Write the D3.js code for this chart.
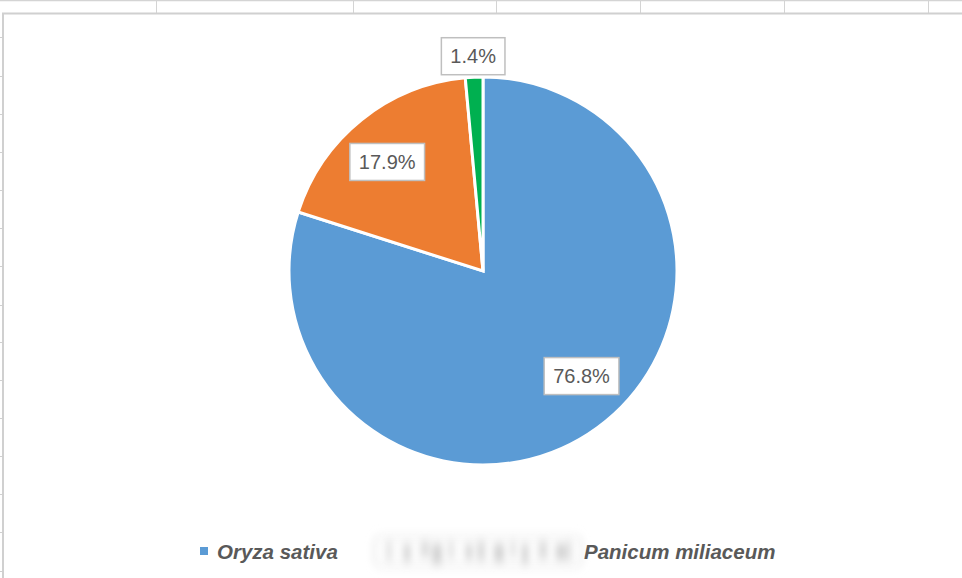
<!DOCTYPE html>
<html>
<head>
<meta charset="utf-8">
<script src="https://cdn.jsdelivr.net/npm/d3@7"></script>
<style>
  html, body { margin: 0; padding: 0; background: #fff; }
  svg { display: block; }
</style>
</head>
<body>
<svg id="chart" width="962" height="578"></svg>
<script>
// chart data
const categories = ["Oryza sativa", "", "Panicum miliaceum"];
const values = [76.8, 17.9, 1.4];
const colors = ["#5b9bd5", "#ed7d31", "#00b050"];

// spreadsheet grid behind the chart
const sheetCols = [156, 353, 496, 640, 784, 928];
const sheetRows = [37, 76, 114, 152, 190, 228, 266, 305, 342, 380, 418, 456, 494, 532, 571];

const W = 962, H = 578;
const cx = 483, cy = 271, R = 194;

const svg = d3.select("#chart");

//Sheet gridlines
const grid = svg.append("g").attr("class", "sheet");
grid.append("line").attr("x1", 0).attr("x2", W).attr("y1", 0.5).attr("y2", 0.5)
  .attr("stroke", "#d4d4d4").attr("stroke-width", 1.5);
grid.selectAll("line.col").data(sheetCols).enter().append("line")
  .attr("class", "col")
  .attr("x1", d => d + 0.5).attr("x2", d => d + 0.5)
  .attr("y1", 0).attr("y2", 13)
  .attr("stroke", "#d4d4d4");
grid.selectAll("line.row").data(sheetRows).enter().append("line")
  .attr("class", "row")
  .attr("x1", 0).attr("x2", 3)
  .attr("y1", d => d + 0.5).attr("y2", d => d + 0.5)
  .attr("stroke", "#d0d0d0");

//Chart area border
svg.append("path")
  .attr("d", `M3,${H} L3,13.5 L${W},13.5`)
  .attr("fill", "none")
  .attr("stroke", "#d0d0d0")
  .attr("stroke-width", 2);

//Pie
const pie = d3.pie().sort(null).value(d => d);
const arcs = pie(values);
const arc = d3.arc().innerRadius(0).outerRadius(R);

const pieGroup = svg.append("g").attr("transform", `translate(${cx},${cy})`);
pieGroup.selectAll("path")
  .data(arcs)
  .enter()
  .append("path")
  .attr("d", arc)
  .attr("fill", (d, i) => colors[i])
  .attr("stroke", "#fff")
  .attr("stroke-width", 3)
  .attr("stroke-linejoin", "miter");

//Data labels (best fit: inside for big slices, outside for tiny ones)
const labelNudge = [[13, -12], [-5, 4], [0, 0]];
const labelFont = "'Liberation Sans', Arial, sans-serif";
const labelGroup = pieGroup.append("g").attr("class", "labels");

arcs.forEach((d, i) => {
  const mid = (d.startAngle + d.endAngle) / 2;
  const outside = (d.endAngle - d.startAngle) < 0.2;
  const r = outside ? R + 21 : 145;
  const x = Math.sin(mid) * r + labelNudge[i][0];
  const y = -Math.cos(mid) * r + labelNudge[i][1];

  const g = labelGroup.append("g").attr("transform", `translate(${x},${y})`);
  const rect = g.append("rect");
  const t = g.append("text")
    .attr("text-anchor", "middle")
    .attr("dominant-baseline", "central")
    .attr("font-family", labelFont)
    .attr("font-size", 20)
    .attr("fill", "#595959")
    .text(d3.format(".1f")(values[i]) + "%");
  const tw = t.node().getComputedTextLength();
  const bw = tw + 18, bh = 37;
  rect.attr("x", -bw / 2).attr("y", -bh / 2)
    .attr("width", bw).attr("height", bh)
    .attr("fill", "#fff")
    .attr("stroke", "#bfbfbf")
    .attr("stroke-width", 1.5);
});

//Legend
const legendY = 551;
const legend = svg.append("g").attr("class", "legend");
const legendFont = "'Liberation Sans', Arial, sans-serif";

// blur filter for the hidden entry
const defs = svg.append("defs");
defs.append("filter").attr("id", "smudge")
  .attr("x", "-10%").attr("y", "-40%").attr("width", "120%").attr("height", "180%")
  .append("feGaussianBlur").attr("stdDeviation", "3 5");

let lx = 200;
categories.forEach((name, i) => {
  if (name === "") {
    // entry obscured in the source picture
    const bx = 373, bw = 210;
    legend.append("rect").attr("x", bx).attr("y", 536).attr("width", bw).attr("height", 31)
      .attr("rx", 8).attr("fill", "#fbfbfb").attr("stroke", "#e4e4e4").attr("stroke-width", 1.5)
      .attr("filter", "url(#smudge)");
    const blob = legend.append("g").attr("filter", "url(#smudge)");
    d3.range(13).forEach(k => {
      blob.append("rect")
        .attr("x", bx + 14 + k * 15 + (k % 3) * 2)
        .attr("y", 541 + (k % 2) * 3)
        .attr("width", 4 + (k % 4) * 2)
        .attr("height", 20 - (k % 3) * 2)
        .attr("fill", k % 2 ? "#d4d4d4" : "#dcdcdc");
    });
    lx = bx + bw + 1;
    return;
  }
  if (i !== 2) {
    legend.append("rect")
      .attr("x", lx).attr("y", legendY - 4)
      .attr("width", 8).attr("height", 8)
      .attr("fill", colors[i]);
  }
  const tx = i === 2 ? lx : lx + 17;
  const t = legend.append("text")
    .attr("x", tx).attr("y", legendY)
    .attr("dominant-baseline", "central")
    .attr("font-family", legendFont)
    .attr("font-size", 20.5)
    .attr("font-weight", "bold")
    .attr("font-style", "italic")
    .attr("fill", "#595959")
    .text(name);
  lx = tx + t.node().getComputedTextLength() + 30;
});
</script>
</body>
</html>
